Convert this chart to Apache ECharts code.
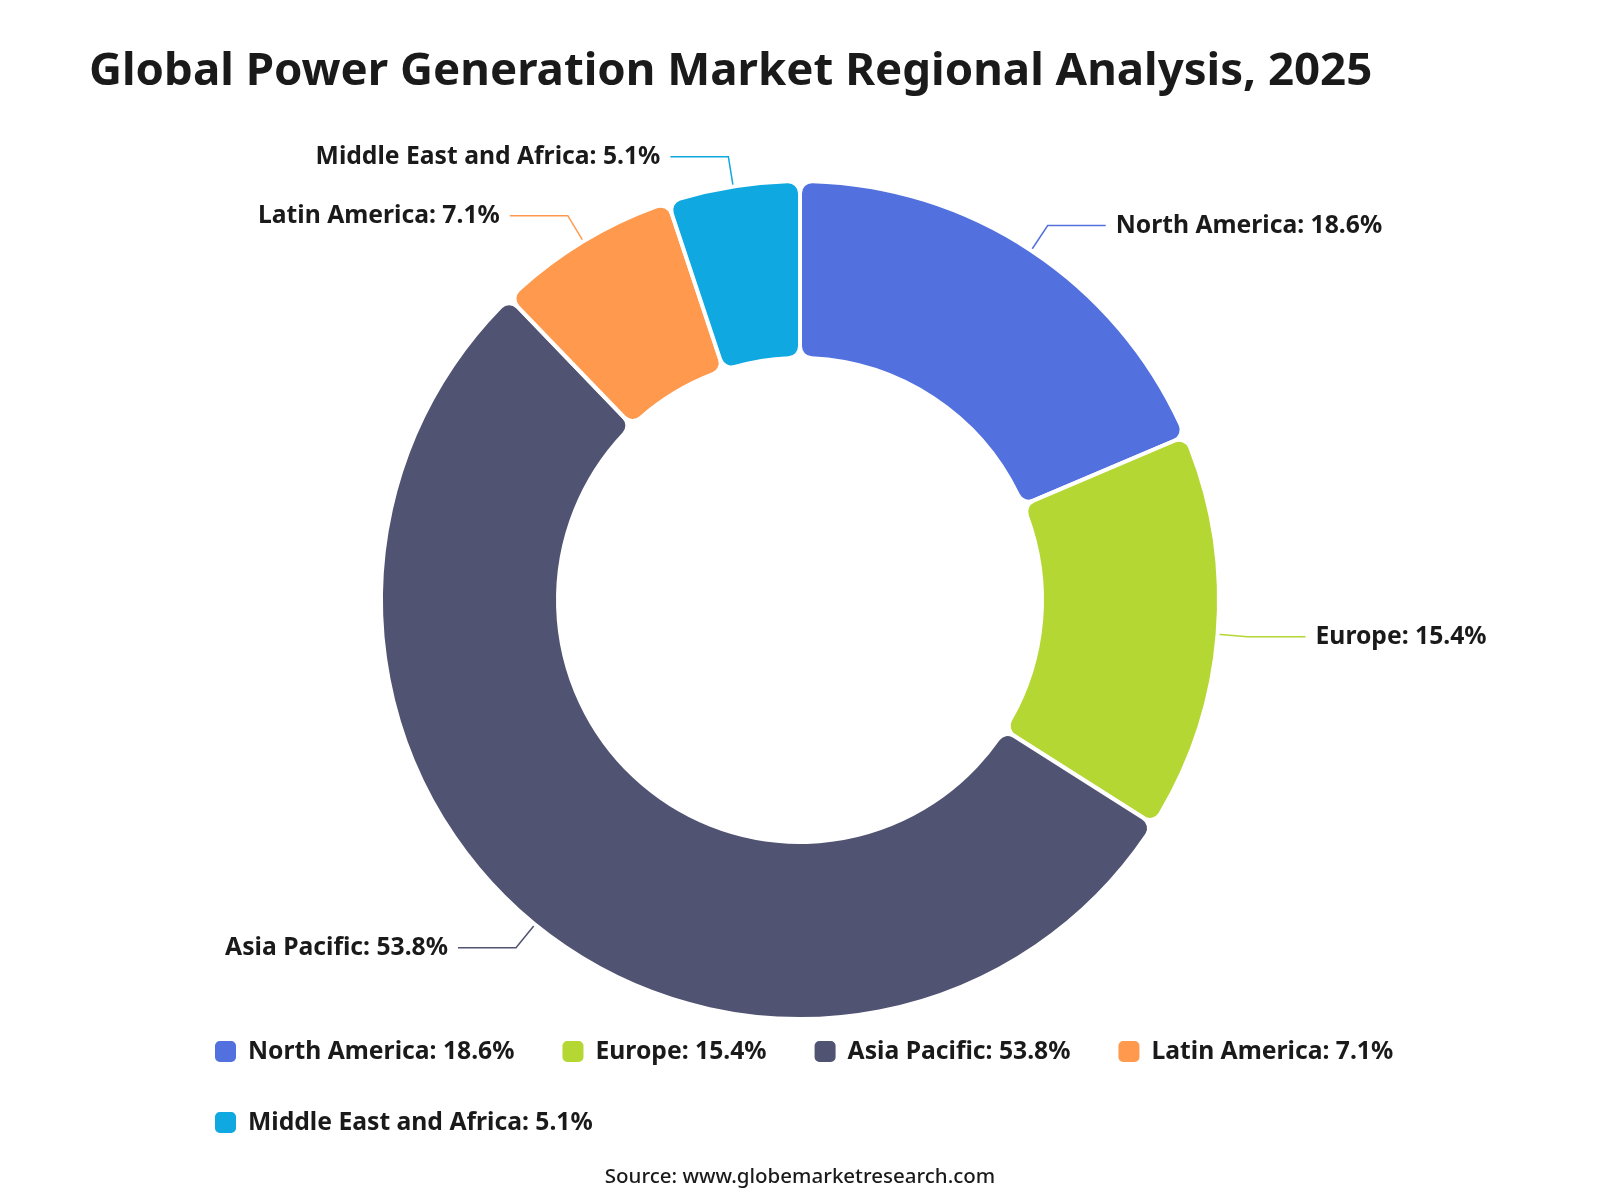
<!DOCTYPE html>
<html>
<head>
<meta charset="utf-8">
<script src="https://cdn.jsdelivr.net/npm/echarts@6/dist/echarts.min.js"></script>
<style>
  html, body { margin: 0; padding: 0; background: #fff; }
  #chart { width: 1600px; height: 1200px; }
</style>
</head>
<body>
<div id="chart"></div>
<script>
// regions and their market share (%)
var regions = ['North America', 'Europe', 'Asia Pacific', 'Latin America', 'Middle East and Africa'];
var shares = [18.6, 15.4, 53.8, 7.1, 5.1];
var colors = ['#5271df', '#b5d733', '#505372', '#ff994d', '#0fa8e0'];

var fontName = '"Noto Sans", "Open Sans", sans-serif';
var txtColor = '#1a1a1a';

var shareOf = {};
regions.forEach(function (r, i) { shareOf[r] = shares[i]; });

var chart = echarts.init(document.getElementById('chart'));
chart.setOption({
  backgroundColor: '#fff',
  color: colors,
  title: [
    {
      text: 'Global Power Generation Market Regional Analysis, 2025',
      left: 84,
      top: 44,
      textStyle: { fontFamily: fontName, fontSize: 45.6, fontWeight: 'bold', color: txtColor }
    },
    {
      text: 'Source: www.globemarketresearch.com',
      left: 'center',
      top: 1162,
      textStyle: { fontFamily: fontName, fontSize: 20.5, fontWeight: 500, color: txtColor }
    }
  ],
  legend: {
    left: 208,
    top: 1034,
    width: 1240,
    itemWidth: 23,
    itemHeight: 23,
    itemGap: 46,
    icon: 'roundRect',
    formatter: function (name) { return name + ': ' + shareOf[name] + '%'; },
    textStyle: { fontFamily: fontName, fontSize: 24.7, fontWeight: 'bold', color: txtColor, padding: [0, 0, 0, 6] }
  },
  series: [{
    type: 'pie',
    center: [800, 600],
    radius: [242, 419],
    startAngle: 90,
    clockwise: true,
    avoidLabelOverlap: true,
    itemStyle: { borderRadius: 12, borderColor: '#fff', borderWidth: 4 },
    label: {
      show: true,
      formatter: '{b}: {c}%',
      fontFamily: fontName,
      fontSize: 24.7,
      fontWeight: 'bold',
      color: txtColor,
      distanceToLabelLine: 10
    },
    labelLine: { show: true, length: 30, length2: 58, lineStyle: { width: 1.5 } },
    data: regions.map(function (r, i) { return { name: r, value: shares[i] }; })
  }]
});
</script>
</body>
</html>
